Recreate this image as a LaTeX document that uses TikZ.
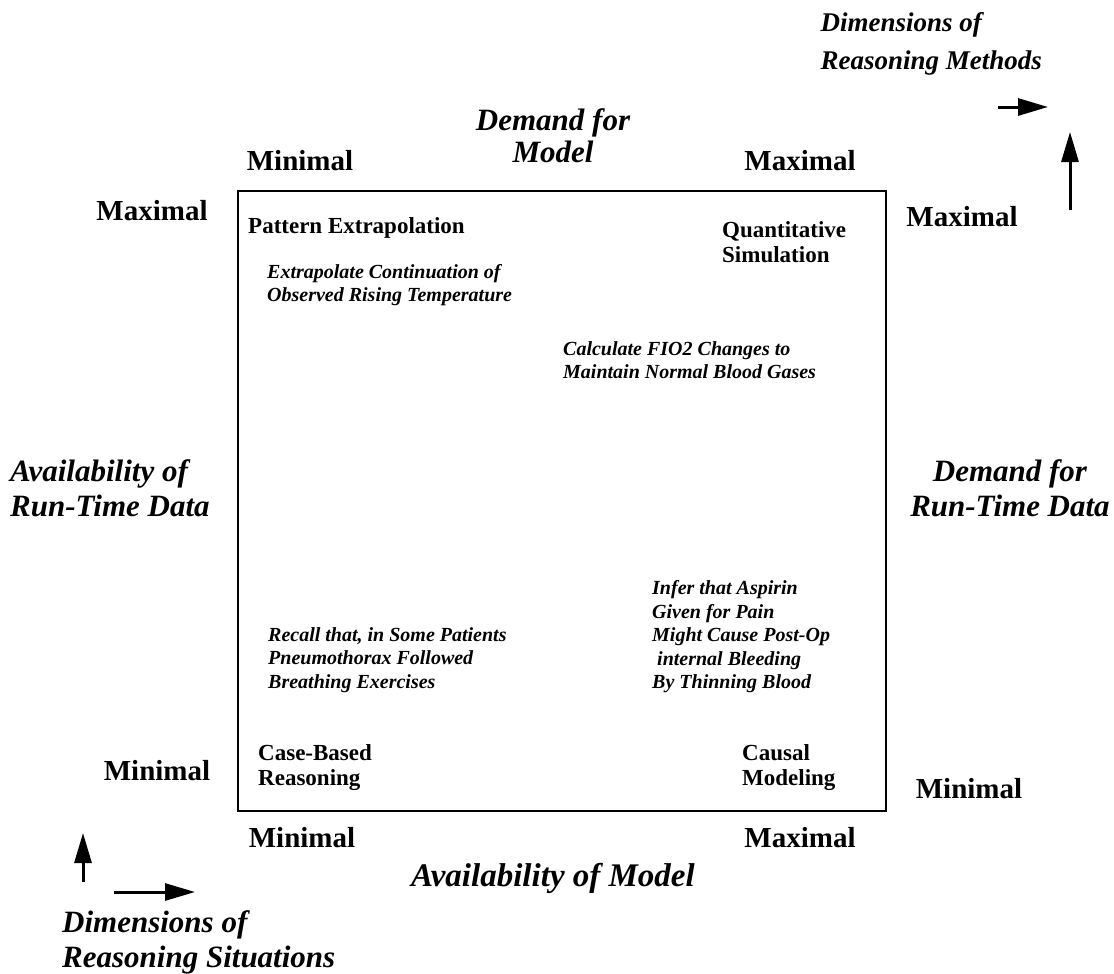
\documentclass[tikz,border=0pt]{standalone}
\usepackage{fontspec}
\setmainfont{Liberation Serif}
\usetikzlibrary{arrows.meta}

\tikzset{
  extreme/.style={inner sep=0pt, font=\fontsize{29}{31}\selectfont\bfseries},
  axis/.style={inner sep=0pt, align=left, font=\fontsize{31}{35}\selectfont\bfseries\itshape},
  method/.style={inner sep=0pt, align=left, anchor=west, font=\fontsize{23}{25}\selectfont\bfseries},
  example/.style={inner sep=0pt, align=left, anchor=west, font=\fontsize{20}{23.5}\selectfont\bfseries\itshape},
  dimarrow/.style={line width=3pt, -{Triangle[length=30pt,width=17pt]}}
}

\begin{document}
\begin{tikzpicture}[x=1pt, y=-1pt]
        \useasboundingbox (0,0) rectangle (1114,974);
        % Square of reasoning methods
        \draw[line width=2pt] (238,191) rectangle (886,811);
        % Extremes of the axes
        \node[extreme] (topmin) at (300,161) {Minimal};
        \node[extreme] (topmax) at (800,161) {Maximal};
        \node[extreme] (leftmax) at (152,211) {Maximal};
        \node[extreme] (rightmax) at (962,217) {Maximal};
        \node[extreme] (leftmin) at (157,771) {Minimal};
        \node[extreme] (rightmin) at (969,789) {Minimal};
        \node[extreme] (botmin) at (302,838) {Minimal};
        \node[extreme] (botmax) at (800,838) {Maximal};
        % Axis titles
        \node[axis, align=center, font=\fontsize{31}{32}\selectfont\bfseries\itshape] (demmodel) at (553,136) {Demand for\\Model};
        \node[axis, align=center, font=\fontsize{33}{35}\selectfont\bfseries\itshape] (avmodel) at (553,878) {Availability of Model};
        \node[axis, anchor=west] (avdata) at (10,488) {Availability of\\Run-Time Data};
        \node[axis, align=center] (demdata) at (1010,488) {Demand for\\Run-Time Data};
        \node[axis, anchor=east, font=\fontsize{27}{38}\selectfont\bfseries\itshape] (dimmeth) at (1042,44) {Dimensions of\\Reasoning Methods};
        \node[axis, anchor=west] (dimsit) at (62,942) {Dimensions of\\Reasoning Situations};
        % Reasoning methods
        \node[method] (pattern) at (248,228) {Pattern Extrapolation};
        \node[method] (quant) at (722,242) {Quantitative\\Simulation};
        \node[method] (casebased) at (258,768) {Case-Based\\Reasoning};
        \node[method] (causal) at (742,768) {Causal\\Modeling};
        % Examples
        \node[example] (extrap) at (267,285) {Extrapolate Continuation of\\Observed Rising Temperature};
        \node[example] (calc) at (563,360) {Calculate FIO2 Changes to\\Maintain Normal Blood Gases};
        \node[example] (infer) at (652,637) {Infer that Aspirin\\Given for Pain\\Might Cause Post-Op\\\ internal Bleeding\\By Thinning Blood};
        \node[example] (recall) at (268,660) {Recall that, in Some Patients\\Pneumothorax Followed\\Breathing Exercises};
        % Direction arrows
        \coordinate (methx0) at (998,107);
        \coordinate (methx1) at (1048,107);
        \coordinate (methy0) at (1070,210);
        \coordinate (methy1) at (1070,132);
        \coordinate (sitx0) at (114,892);
        \coordinate (sitx1) at (195,892);
        \coordinate (sity0) at (83,882);
        \coordinate (sity1) at (83,833);
        \draw[dimarrow] (methx0) -- (methx1);
        \draw[dimarrow] (methy0) -- (methy1);
        \draw[dimarrow] (sitx0) -- (sitx1);
        \draw[dimarrow] (sity0) -- (sity1);
\end{tikzpicture}
\end{document}
